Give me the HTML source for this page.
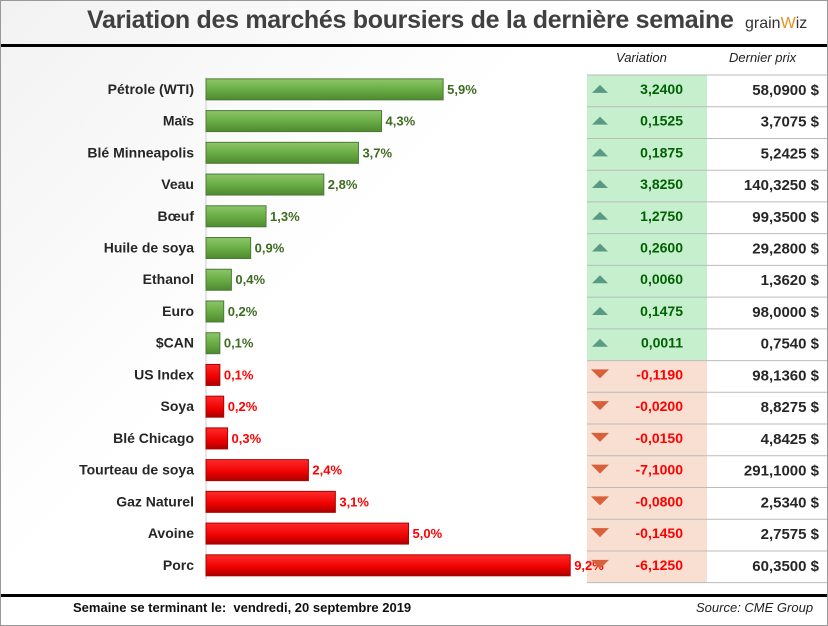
<!DOCTYPE html>
<html><head><meta charset="utf-8">
<style>
body{margin:0;width:828px;height:626px;overflow:hidden;background:#fff;font-family:"Liberation Sans",sans-serif}
#root{position:relative;width:826px;height:624px;border:1px solid #999;background:linear-gradient(135deg,#f2f2f2 0%,#fff 40%,#fff 100%)}
.t{position:absolute;white-space:nowrap}
</style></head><body>
<div id="root">
<div class="t" style="left:86px;top:5px;font-size:25px;font-weight:bold;color:#404040;letter-spacing:-0.3px">Variation des marchés boursiers de la dernière semaine</div>
<div class="t" style="left:744px;top:14px;font-size:16px;color:#333">grain<span style="color:#e8901a">W</span>iz</div>
<div style="position:absolute;left:0;top:43px;width:826px;height:3px;background:#000"></div>
<div class="t" style="left:615px;top:49px;font-size:13px;font-style:italic;color:#222">Variation</div>
<div class="t" style="left:728px;top:49px;font-size:13px;font-style:italic;color:#222">Dernier prix</div>
<svg id="chart" width="826" height="624" style="position:absolute;left:0;top:0"></svg>
<div style="position:absolute;left:0;top:593px;width:826px;height:3px;background:#000"></div>
<div class="t" style="left:72px;top:599px;font-size:13px;font-weight:bold;color:#111">Semaine se terminant le:&nbsp; vendredi, 20 septembre 2019</div>
<div class="t" style="left:695px;top:599px;font-size:13px;font-style:italic;color:#222">Source: CME Group</div>
</div>
<script>
const categories=["Pétrole (WTI)","Maïs","Blé Minneapolis","Veau","Bœuf","Huile de soya","Ethanol","Euro","$CAN","US Index","Soya","Blé Chicago","Tourteau de soya","Gaz Naturel","Avoine","Porc"];
const pctValues=[5.9,4.3,3.7,2.8,1.3,0.9,0.4,0.2,0.1,0.1,0.2,0.3,2.4,3.1,5.0,9.2];
const directions=[1,1,1,1,1,1,1,1,1,-1,-1,-1,-1,-1,-1,-1];
const variations=["3,2400","0,1525","0,1875","3,8250","1,2750","0,2600","0,0060","0,1475","0,0011","-0,1190","-0,0200","-0,0150","-7,1000","-0,0800","-0,1450","-6,1250"];
const prices=["58,0900 $","3,7075 $","5,2425 $","140,3250 $","99,3500 $","29,2800 $","1,3620 $","98,0000 $","0,7540 $","98,1360 $","8,8275 $","4,8425 $","291,1000 $","2,5340 $","2,7575 $","60,3500 $"];
const svg=document.getElementById('chart');const NS='http://www.w3.org/2000/svg';
const x0=205,pxPer=38.5,rowTop=74,pitch=31.73;
const xw=v=>10+v*pxPer;
const yc=i=>rowTop+pitch*i+pitch/2-2;
function mk(t,a,p){const e=document.createElementNS(NS,t);for(const k in a)e.setAttribute(k,a[k]);(p||svg).appendChild(e);return e;}
const defs=mk('defs',{});
defs.innerHTML='<linearGradient id="gg" x1="0" y1="0" x2="0" y2="1"><stop offset="0" stop-color="#8cc66a"/><stop offset="0.5" stop-color="#6aad45"/><stop offset="1" stop-color="#4e8a30"/></linearGradient><linearGradient id="rg" x1="0" y1="0" x2="0" y2="1"><stop offset="0" stop-color="#ff2a2a"/><stop offset="0.6" stop-color="#ee0000"/><stop offset="1" stop-color="#a80000"/></linearGradient>';
categories.forEach((c,i)=>{
 const up=directions[i]>0;const top=rowTop+pitch*i;
 const bg=mk('rect',{x:586,y:top,width:120,height:pitch,fill:up?'#c6efce':'#f8dfd2'});
 
});
for(let i=0;i<=16;i++){const l=mk('line',{x1:586,x2:826,y1:rowTop+pitch*i,y2:rowTop+pitch*i,stroke:'#bbb','stroke-width':1});
 }
const ax=mk('line',{x1:x0,x2:x0,y1:76,y2:578,stroke:'#ccc','stroke-width':1});

categories.forEach((c,i)=>{
 const up=directions[i]>0;const y=yc(i);const w=xw(pctValues[i]);
 const lab=mk('text',{x:193,y:y+5,'text-anchor':'end','font-size':14,'font-weight':'bold',fill:'#262626'});lab.textContent=c;
 
 const b=mk('rect',{x:x0,y:y-10,width:w,height:21,fill:up?'url(#gg)':'url(#rg)',stroke:up?'#4e7a36':'#b00000','stroke-width':1});
 
 const v=mk('text',{x:x0+w+4,y:y+5,'font-size':13,'font-weight':'bold',fill:up?'#3f6b22':'#ff0000'});v.textContent=pctValues[i].toFixed(1).replace('.',',')+'%';
 
 const ic=up?mk('polygon',{points:`${591},${y+4} ${599},${y-4} ${607},${y+4}`,fill:'#5a9a82'}):mk('polygon',{points:`${590},${y-5} ${608},${y-5} ${599},${y+4}`,fill:'#d9603a'});
 
 const vt=mk('text',{x:682,y:y+5,'text-anchor':'end','font-size':14,'font-weight':'bold',fill:up?'#006100':'#ff0000'});vt.textContent=variations[i];
 
 const pt=mk('text',{x:818,y:y+6,'text-anchor':'end','font-size':15,'font-weight':'bold',fill:'#262626'});pt.textContent=prices[i];
 
});
</script>
</body></html>
